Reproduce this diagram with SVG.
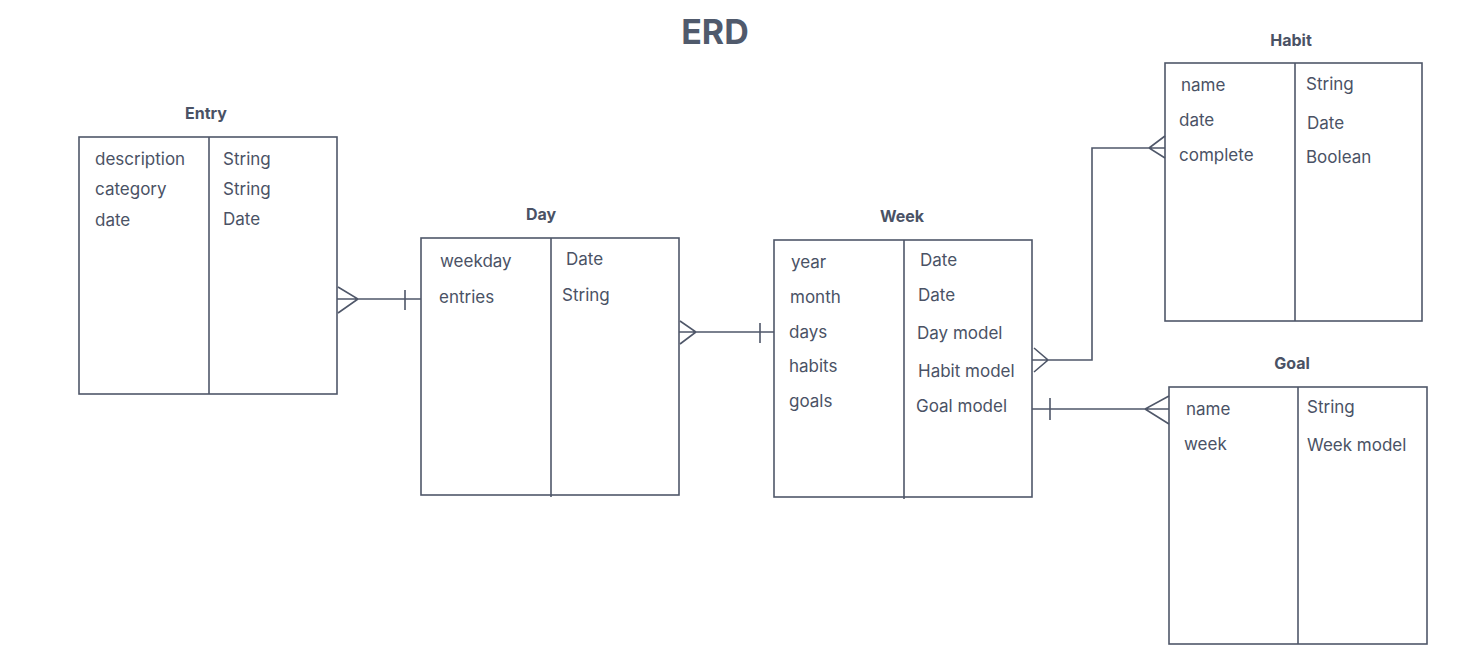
<svg xmlns="http://www.w3.org/2000/svg" width="1457" height="669" viewBox="0 0 1457 669">
<style>
.box{fill:none;stroke:#4f5769;stroke-width:1.6}
.ln{fill:none;stroke:#4f5769;stroke-width:1.6}
.t{font-family:Inter,"Liberation Sans",sans-serif;font-size:17px;fill:#4a5265}
.h{font-family:Inter,"Liberation Sans",sans-serif;font-size:16px;font-weight:700;fill:#4a5265;text-anchor:middle}
.title{font-family:Inter,"Liberation Sans",sans-serif;font-size:34px;font-weight:700;fill:#505a6c;text-anchor:middle}
</style>
<rect width="1457" height="669" fill="#ffffff"/>
<text class="title" x="715" y="44">ERD</text>
<g id="entry">
<text class="h" x="206" y="119">Entry</text>
<rect class="box" x="79" y="137" width="258" height="257"/>
<line class="ln" x1="209" y1="137" x2="209" y2="394"/>
<text class="t" x="95" y="165">description</text>
<text class="t" x="95" y="195">category</text>
<text class="t" x="95" y="226">date</text>
<text class="t" x="223" y="165">String</text>
<text class="t" x="223" y="195">String</text>
<text class="t" x="223" y="225">Date</text>
</g>
<g id="day">
<text class="h" x="541" y="220">Day</text>
<rect class="box" x="421" y="238" width="258" height="257"/>
<line class="ln" x1="551" y1="238" x2="551" y2="497"/>
<text class="t" x="440" y="267">weekday</text>
<text class="t" x="439" y="303">entries</text>
<text class="t" x="566" y="265">Date</text>
<text class="t" x="562" y="301">String</text>
</g>
<g id="week">
<text class="h" x="902" y="222">Week</text>
<rect class="box" x="774" y="240" width="258" height="257"/>
<line class="ln" x1="904" y1="240" x2="904" y2="499"/>
<text class="t" x="791" y="268">year</text>
<text class="t" x="790" y="303">month</text>
<text class="t" x="789" y="338">days</text>
<text class="t" x="789" y="372">habits</text>
<text class="t" x="789" y="407">goals</text>
<text class="t" x="920" y="266">Date</text>
<text class="t" x="918" y="301">Date</text>
<text class="t" x="917" y="339">Day model</text>
<text class="t" x="918" y="377">Habit model</text>
<text class="t" x="916" y="412">Goal model</text>
</g>
<g id="habit">
<text class="h" x="1291" y="46">Habit</text>
<rect class="box" x="1165" y="63" width="257" height="258"/>
<line class="ln" x1="1295" y1="63" x2="1295" y2="321"/>
<text class="t" x="1181" y="91">name</text>
<text class="t" x="1179" y="126">date</text>
<text class="t" x="1179" y="161">complete</text>
<text class="t" x="1306" y="90">String</text>
<text class="t" x="1307" y="129">Date</text>
<text class="t" x="1306" y="163">Boolean</text>
</g>
<g id="goal">
<text class="h" x="1292" y="369">Goal</text>
<rect class="box" x="1169" y="387" width="258" height="257"/>
<line class="ln" x1="1298" y1="387" x2="1298" y2="644"/>
<text class="t" x="1186" y="415">name</text>
<text class="t" x="1184" y="450">week</text>
<text class="t" x="1307" y="413">String</text>
<text class="t" x="1307" y="451">Week model</text>
</g>
<g id="connectors">
<path class="ln" d="M337 299 H421 M338 287 L358 299 L338 313 M405 290 V310"/>
<path class="ln" d="M679 332 H774 M680 321 L696 332 L680 344 M760 323 V343"/>
<path class="ln" d="M1032 360 H1092 V148 H1165 M1034 348 L1048 360 L1034 372 M1165 136 L1149 148 L1165 158"/>
<path class="ln" d="M1032 409 H1169 M1050 398 V420 M1169 396 L1145 409 L1169 424"/>
</g>
</svg>
